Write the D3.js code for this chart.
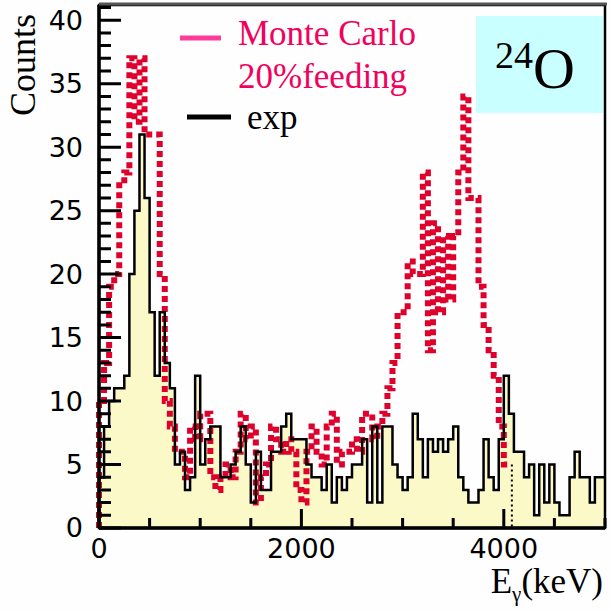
<!DOCTYPE html>
<html><head><meta charset="utf-8">
<script src="https://cdn.jsdelivr.net/npm/d3@7"></script>
<style>html,body{margin:0;padding:0;background:#fff;}svg{display:block;}</style>
</head><body>
<script>
// ---------- data ----------
const binWidth = 50; // keV per bin
const expCounts = [4,8,10,11,11,12,20,25,31,26, 17,12,17,13,11,5,6,3,4,12,
  5,7,8,8,4,4,5,6,8,5, 2,6,3,3,6,6,8,9,7,7,
  7,5,4,4,3,5,2,4,3,4, 5,5,7,2,8,2,8,8,5,4,
  3,4,9,7,4,7,6,7,6,7, 8,4,3,2,2,3,7,4,3,7,
  12,9,6,6,4,5,1,5,2,5, 2,1,1,4,6,4,4,2,4,4];
const mcCounts = [10,13,19,20,27,28,37,32,37,31, 31,31,20,10,8,6,6,4,8,7,
  9,9,4,3,4,5,4,6,9,7, 8,2,4,5,8,7,6,7,6,3,
  2,6,8,6,5,8,9,5,6,6, 7,6,9,9,7,8,9,11,13,17,
  17,21,20,20,28,14,24,17,23,18, 23,28,34,26,26,19,16,14,12,8,
  5];
const xMajorTicks = [0, 2000, 4000];
const xMinorTicks = d3.range(0, 5001, 500);
const yMajorTicks = d3.range(0, 41, 5);
const yMinorTicks = d3.range(0, 42, 1);
const legendItems = [
  {lines: ["Monte Carlo", "20%feeding"], color: "#f2005c", swatch: "#ff3c9c"},
  {lines: ["exp"], color: "#000", swatch: "#000"}
];
const nucleus = {mass: "24", symbol: "O"};

// ---------- layout ----------
const W = 613, H = 612;
const svg = d3.select("body").append("svg").attr("width", W).attr("height", H);
svg.append("rect").attr("width", W).attr("height", H).attr("fill", "#fefefe");

const x = d3.scaleLinear().domain([0, 5000]).range([99, 605]);
const y = d3.scaleLinear().domain([0, 41.2]).range([528, 5]);

const expPts = expCounts.map((v, i) => [i * binWidth, v]);
expPts.push([expCounts.length * binWidth, expCounts[expCounts.length - 1]]);
const mcPts = [[0, 0]].concat(mcCounts.map((v, i) => [i * binWidth, v]));
const mcEnd = mcCounts.length * binWidth;
mcPts.push([mcEnd, mcCounts[mcCounts.length - 1]]);

// exp fill
svg.append("path").datum(expPts)
  .attr("d", d3.area().curve(d3.curveStepAfter).x(d => x(d[0])).y0(y(0)).y1(d => y(d[1])))
  .attr("fill", "#fcf9c8");

// Monte Carlo dotted histogram
svg.append("path").datum(mcPts)
  .attr("d", d3.line().curve(d3.curveStepAfter).x(d => x(d[0])).y(d => y(d[1])))
  .attr("fill", "none").attr("stroke", "#e0002c").attr("stroke-width", 6)
  .attr("stroke-dasharray", "6 4");
svg.append("line")
  .attr("x1", x(mcEnd) + 3).attr("x2", x(mcEnd) + 3)
  .attr("y1", y(mcCounts[mcCounts.length - 1])).attr("y2", y(0))
  .attr("stroke", "#000").attr("stroke-width", 2).attr("stroke-dasharray", "2 3");

// exp outline
svg.append("path").datum([[0, 0]].concat(expPts))
  .attr("d", d3.line().curve(d3.curveStepAfter).x(d => x(d[0])).y(d => y(d[1])))
  .attr("fill", "none").attr("stroke", "#000").attr("stroke-width", 2.5);

// frame
svg.append("rect").attr("x", x(0)).attr("y", y(41.2)).attr("width", x(5000) - x(0)).attr("height", y(0) - y(41.2))
  .attr("fill", "none").attr("stroke", "#000").attr("stroke-width", 2.5);
svg.append("line").attr("x1", x(0)).attr("x2", x(0)).attr("y1", y(41.2)).attr("y2", y(0))
  .attr("stroke", "#000").attr("stroke-width", 3.5);
svg.append("line").attr("x1", x(0)).attr("x2", x(5000)).attr("y1", y(0)).attr("y2", y(0))
  .attr("stroke", "#000").attr("stroke-width", 3.5);
svg.append("line").attr("x1", x(0)).attr("x2", x(5000) + 2).attr("y1", y(41.2) - 1).attr("y2", y(41.2) - 1)
  .attr("stroke", "#555").attr("stroke-width", 3);

// ticks, positioned by the scales
const tickPath = d3.path();
yMinorTicks.forEach(d => { tickPath.moveTo(x(0), y(d)); tickPath.lineTo(x(0) + 12, y(d)); });
yMajorTicks.forEach(d => { tickPath.moveTo(x(0), y(d)); tickPath.lineTo(x(0) + 22, y(d)); });
xMinorTicks.forEach(d => { tickPath.moveTo(x(d), y(0)); tickPath.lineTo(x(d), y(0) - 10); });
xMajorTicks.forEach(d => { tickPath.moveTo(x(d), y(0)); tickPath.lineTo(x(d), y(0) - 19); });
svg.append("path").attr("d", tickPath.toString())
  .attr("fill", "none").attr("stroke", "#000").attr("stroke-width", 3);

// tick labels
const tickFont = "'DejaVu Sans', sans-serif";
svg.append("g").selectAll("text").data(yMajorTicks).join("text")
  .attr("x", x(0) - 16).attr("y", d => y(d)).attr("dy", "0.35em").attr("text-anchor", "end")
  .attr("font-family", tickFont).attr("font-size", 27).text(d => d);
svg.append("g").selectAll("text").data(xMajorTicks).join("text")
  .attr("x", d => x(d)).attr("y", y(0) + 9).attr("dy", "0.76em").attr("text-anchor", "middle")
  .attr("font-family", tickFont).attr("font-size", 27).text(d => d3.format("d")(d));

// axis titles
const serif = "'Liberation Serif', 'Times New Roman', serif";
svg.append("text").attr("transform", "translate(35,65) rotate(-90)")
  .attr("text-anchor", "middle").attr("font-family", serif).attr("font-size", 36).text("Counts");
const xt = svg.append("text").attr("x", 603).attr("y", 593).attr("text-anchor", "end")
  .attr("font-family", serif).attr("font-size", 35);
xt.append("tspan").text("E");
xt.append("tspan").attr("font-size", 21).attr("dy", 8).text("γ");
xt.append("tspan").attr("dy", -8).text("(keV)");

// legend
svg.append("line").attr("x1", 180).attr("x2", 221).attr("y1", 38).attr("y2", 38)
  .attr("stroke", legendItems[0].swatch).attr("stroke-width", 5);
legendItems[0].lines.forEach((t, i) => {
  svg.append("text").attr("x", 238).attr("y", 45 + i * 43).attr("font-family", serif)
    .attr("font-size", 35).attr("fill", legendItems[0].color).text(t);
});
svg.append("line").attr("x1", 187).attr("x2", 231).attr("y1", 117).attr("y2", 117)
  .attr("stroke", legendItems[1].swatch).attr("stroke-width", 5);
svg.append("text").attr("x", 247).attr("y", 129).attr("font-family", serif)
  .attr("font-size", 35).attr("fill", legendItems[1].color).text(legendItems[1].lines[0]);

// nucleus box
svg.append("rect").attr("x", 476).attr("y", 16).attr("width", 127).attr("height", 97).attr("fill", "#caffff");
const nt = svg.append("text").attr("x", 495).attr("y", 88).attr("font-family", serif).attr("fill", "#000");
nt.append("tspan").attr("font-size", 38).attr("dy", -20).text(nucleus.mass);
nt.append("tspan").attr("font-size", 58).attr("dy", 20).text(nucleus.symbol);
</script>
</body></html>
